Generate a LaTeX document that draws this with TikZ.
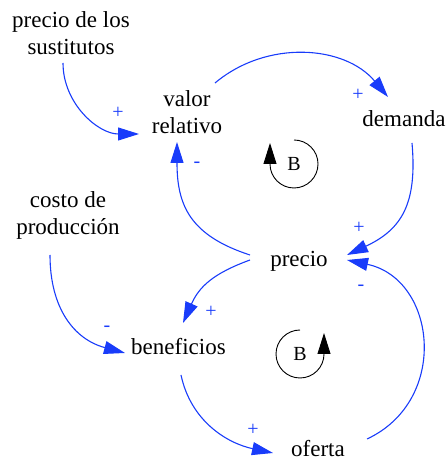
\documentclass[tikz,border=0pt]{standalone}
\usepackage{fontspec}
\setmainfont{Liberation Serif}
\usepackage{tikz}
\usetikzlibrary{arrows.meta}
\definecolor{linkblue}{RGB}{25,60,250}

\begin{document}
\begin{tikzpicture}[
    x=1pt, y=1pt,
    >={Triangle[length=21pt,width=13pt]},
    var/.style={inner sep=0pt, align=center, font=\fontsize{23}{27}\selectfont},
    link/.style={->, line width=1.1pt, draw=linkblue},
    polarity/.style={inner sep=0pt, text=linkblue, font=\fontsize{20}{20}\selectfont},
    loopmark/.style={inner sep=0pt, font=\fontsize{20}{20}\selectfont},
    looparc/.style={->, line width=0.9pt, draw=black}
]
\useasboundingbox (0,0) rectangle (447,460);

% Variables
\node[var] (sust) at (71,427) {precio de los\\sustitutos};
\node[var] (valor) at (187,348) {valor\\relativo};
\node[var, anchor=base] (demanda) at (404,333) {demanda};
\node[var] (costo) at (68,244.5) {costo de\\producción};
\node[var, anchor=base] (precio) at (299,193) {precio};
\node[var, anchor=base] (benef) at (178.5,105) {beneficios};
\node[var, anchor=base] (oferta) at (318,4) {oferta};

% Loop markers
\node[loopmark] (loopA) at (294,296) {B};
\node[loopmark] (loopB) at (300,106) {B};
\draw[looparc] ([yshift=24]loopA.center) arc[start angle=90, end angle=-180, radius=24] -- ++(0,21);
\draw[looparc] ([yshift=24]loopB.center) arc[start angle=90, end angle=360, radius=24] -- ++(0,21);

% Upper loop: valor relativo -> demanda -> precio -> valor relativo
\draw[link] ([shift={(28,29)}]valor.center) to[out=40, in=130] ([shift={(-16,30)}]demanda.base);
\draw[link] ([shift={(8,-16)}]demanda.base) to[out=-85, in=25, looseness=1.2] ([shift={(48,12)}]precio.base);
\draw[link] ([shift={(-49,12)}]precio.base) to[out=162, in=-90, looseness=1.2] ([shift={(-10,-30)}]valor.center);

% Lower loop: precio -> beneficios -> oferta -> precio
\draw[link] ([shift={(-49,7)}]precio.base) to[out=200, in=66, looseness=1.1] ([shift={(4.5,32)}]benef.base);
\draw[link] ([shift={(2.5,-20)}]benef.base) to[out=-78, in=168] ([shift={(-45,3)}]oferta.base);
\draw[link] ([shift={(49,17)}]oferta.base) to[out=25, in=-12, looseness=1.3] ([shift={(48,7)}]precio.base);

% Inputs
\draw[link] ([shift={(-8,-30)}]sust.center) to[out=-90, in=180] ([shift={(-48,-22)}]valor.center);
\draw[link] ([shift={(-18,-39.5)}]costo.center) to[out=-90, in=165, looseness=1.1] ([shift={(-53.5,2)}]benef.base);

% Polarities
\node[polarity] (pSust) at (118,347) {+};
\node[polarity] (pDem) at (358,365) {+};
\node[polarity] (pPre) at (359,232) {+};
\node[polarity] (pVal) at (197,295) {-};
\node[polarity] (pBen) at (211,148) {+};
\node[polarity] (pCos) at (107,131) {-};
\node[polarity] (pOfe) at (253,30) {+};
\node[polarity] (pOfePre) at (361,172) {-};

\end{tikzpicture}
\end{document}
